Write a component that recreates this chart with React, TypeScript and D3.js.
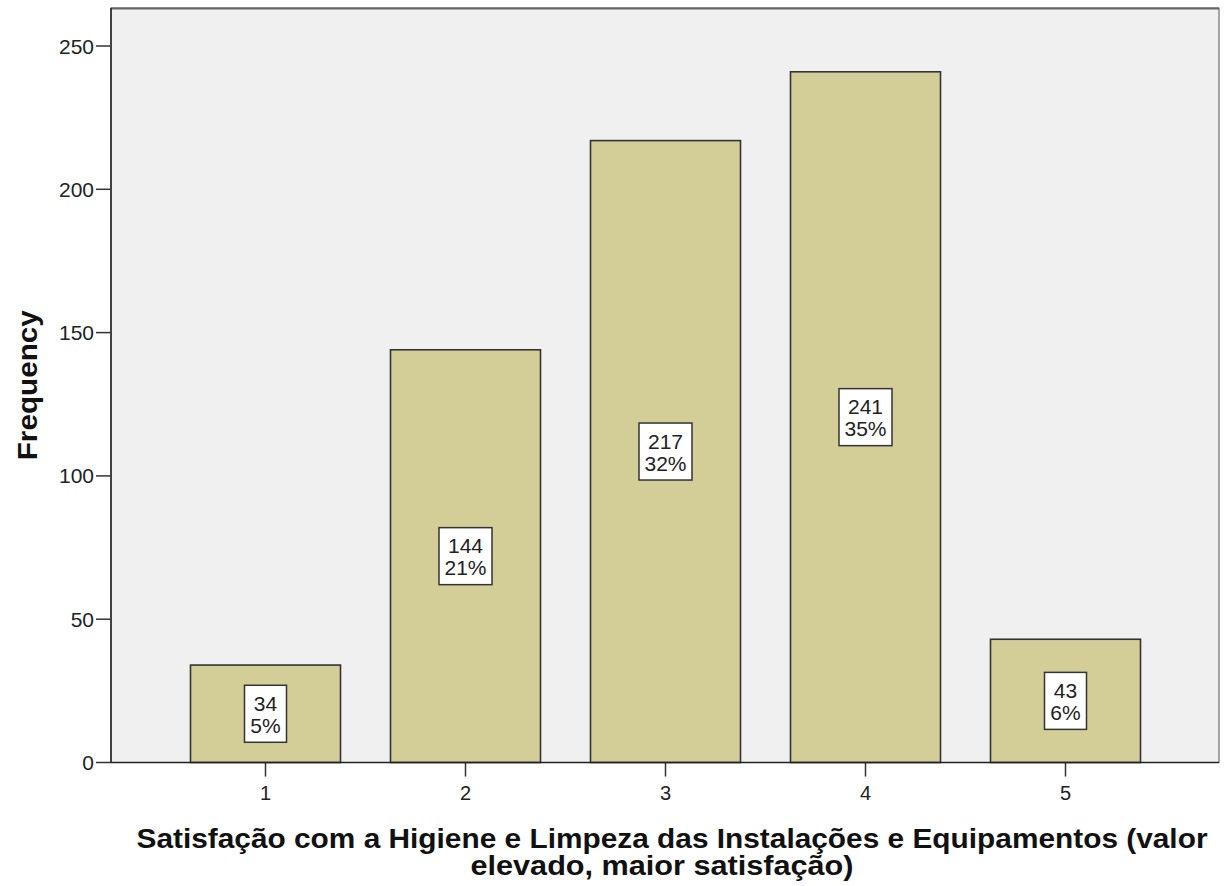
import React from "react";
import * as d3 from "d3";

const categories = ["1", "2", "3", "4", "5"];
const frequencies = [34, 144, 217, 241, 43];
const percents = ["5%", "21%", "32%", "35%", "6%"];
const yTicks = [0, 50, 100, 150, 200, 250];
const xTitleLines = [
  "Satisfação com a Higiene e Limpeza das Instalações e Equipamentos (valor",
  "elevado, maior satisfação)",
];
const yTitle = "Frequency";

export default function App() {
  const W = 1230, H = 886;
  const left = 111, right = 1219, top = 8, bottom = 762.5;
  const y = d3.scaleLinear().domain([0, 250]).range([bottom, 46]);
  const x = d3.scalePoint<string>().domain(categories).range([265.5, 1065.5]);
  const barW = 150;
  const font = "'Liberation Sans', Arial, sans-serif";

  return (
    <svg width={W} height={H} style={{ position: "absolute", left: 0, top: 0, background: "#fff" }}>
      <rect x={left} y={top} width={right - left} height={bottom - top} fill="#F0F0F0" stroke="#555" strokeWidth={1} />
      <line x1={left} x2={right} y1={top + 0.5} y2={top + 0.5} stroke="#666" strokeWidth={2} />
      {categories.map((c, i) => {
        const cx = x(c)!;
        const v = frequencies[i];
        const yt = y(v);
        const mid = (yt + bottom) / 2;
        const bw = String(v).length >= 3 ? 53 : 42;
        const bh = 57;
        return (
          <g key={c}>
            <rect x={cx - barW / 2} y={yt} width={barW} height={bottom - yt} fill="#D3CE97" stroke="#333" strokeWidth={1.6} />
            <rect x={cx - bw / 2} y={mid - bh / 2} width={bw} height={bh} fill="#fff" stroke="#333" strokeWidth={1.5} />
            <text x={cx} y={mid - 3} textAnchor="middle" fontFamily={font} fontSize={21} fill="#222">{v}</text>
            <text x={cx} y={mid + 19} textAnchor="middle" fontFamily={font} fontSize={21} fill="#222">{percents[i]}</text>
            <line x1={cx} x2={cx} y1={bottom} y2={bottom + 14} stroke="#333" strokeWidth={1.5} />
            <text x={cx} y={800} textAnchor="middle" fontFamily={font} fontSize={20} fill="#222">{c}</text>
          </g>
        );
      })}
      <line x1={left} x2={left} y1={top} y2={bottom} stroke="#222" strokeWidth={1.5} />
      <line x1={left} x2={right} y1={bottom} y2={bottom} stroke="#222" strokeWidth={1.5} />
      {yTicks.map((t) => (
        <g key={t}>
          <line x1={left - 15} x2={left} y1={y(t)} y2={y(t)} stroke="#333" strokeWidth={1.5} />
          <text x={left - 17} y={y(t) + 7.5} textAnchor="end" fontFamily={font} fontSize={21} fill="#222">{t}</text>
        </g>
      ))}
      <text transform={`translate(37, ${(top + bottom) / 2}) rotate(-90)`} textAnchor="middle" fontFamily={font} fontSize={27} fontWeight="bold" fill="#111" textLength={150} lengthAdjust="spacingAndGlyphs">{yTitle}</text>
      <text x={672} y={848} textAnchor="middle" fontFamily={font} fontSize={27} fontWeight="bold" fill="#111" textLength={1071} lengthAdjust="spacingAndGlyphs">{xTitleLines[0]}</text>
      <text x={662} y={875} textAnchor="middle" fontFamily={font} fontSize={27} fontWeight="bold" fill="#111" textLength={383} lengthAdjust="spacingAndGlyphs">{xTitleLines[1]}</text>
    </svg>
  );
}
